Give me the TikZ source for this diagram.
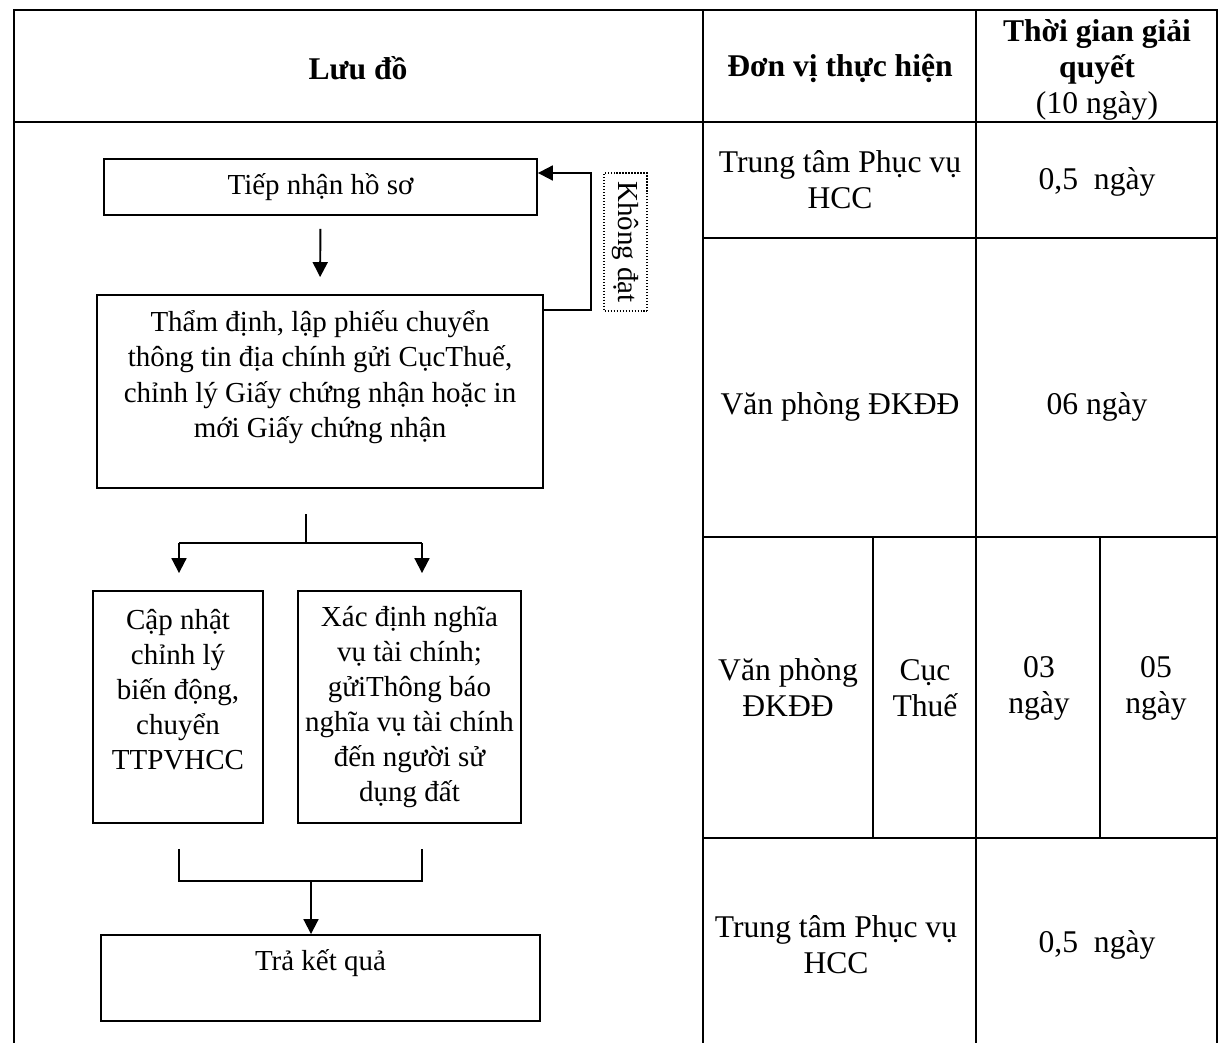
\documentclass[tikz,border=0pt]{standalone}
\usepackage{fontspec}
\setmainfont{Liberation Serif}
\usepackage{tikz}
\usetikzlibrary{arrows.meta,calc}
\newcommand{\TableFont}{\fontsize{18pt}{20.5pt}\selectfont}
\newcommand{\FlowFont}{\fontsize{16.5pt}{20pt}\selectfont}
\colorlet{LineColor}{black}
\tikzset{
  gridline/.style={draw=LineColor, line width=1pt},
  stepbox/.style={
    draw=LineColor, line width=1.1pt, align=center,
    inner sep=1pt, font=\FlowFont
  },
  flowline/.style={draw=LineColor, line width=1.1pt},
  flowarrow/.style={flowline, -{Triangle[length=8.5pt,width=8.5pt]}},
  notebox/.style={
    draw=LineColor, densely dotted, line width=0.7pt, rotate=-90,
    font=\FlowFont, inner sep=1pt
  },
  tablecell/.style={align=center, font=\TableFont},
  headcell/.style={align=center, font=\TableFont\bfseries}
}

\begin{document}
\begin{tikzpicture}[x=0.02cm, y=-0.02cm]
    \useasboundingbox (0,0) rectangle (1222,1043);
    \fill[white] (0,0) rectangle (1222,1043);
    % khung bang
    \draw[gridline] (14,1043) -- (14,10) -- (1217,10) -- (1217,1043);
    \draw[gridline] (14,122) -- (1217,122);
    \draw[gridline] (703,10) -- (703,1043);
    \draw[gridline] (976,10) -- (976,1043);
    \foreach \y in {238,537,838}
        \draw[gridline] (703,\y) -- (1217,\y);
    \draw[gridline] (873,537) -- (873,838);
    \draw[gridline] (1100,537) -- (1100,838);

    \node[headcell] (hdflow) at (358,68) {Lưu đồ};
    \node[headcell] (hdunit) at (840,68) {Đơn vị thực hiện};
    \node[headcell] (hdtime) at (1097,70) {Thời gian giải\\quyết\\{\mdseries(10 ngày)}};

    \node[tablecell] (unitA) at (840,180) {Trung tâm Phục vụ\\HCC};
    \node[tablecell] (timeA) at (1097,182) {0,5~~ngày};
    \node[tablecell] (unitB) at (840,407) {Văn phòng ĐKĐĐ};
    \node[tablecell] (timeB) at (1097,407) {06 ngày};
    \node[tablecell] (unitC) at (788,688) {Văn phòng\\ĐKĐĐ};
    \node[tablecell] (unitD) at (925,688) {Cục\\Thuế};
    \node[tablecell] (timeC) at (1039,688) {03\\ngày};
    \node[tablecell] (timeD) at (1156,688) {05\\ngày};
    \node[tablecell] (unitE) at (836,945) {Trung tâm Phục vụ\\HCC};
    \node[tablecell] (timeE) at (1097,945) {0,5~~ngày};

    % luu do
    \node[stepbox, minimum width=8.66cm, minimum height=1.12cm] (receive) at (320.5,187) {Tiếp nhận hồ sơ};
    \node[stepbox, minimum width=8.92cm, minimum height=3.86cm] (verify) at (320,391.5)
        {Thẩm định, lập phiếu chuyển\\thông tin địa chính gửi CụcThuế,\\chỉnh lý Giấy chứng nhận hoặc in\\mới Giấy chứng nhận\\\mbox{}};
    \node[stepbox, minimum width=3.4cm, minimum height=4.64cm] (update) at (178,707)
        {Cập nhật\\chỉnh lý\\biến động,\\chuyển\\TTPVHCC\\\mbox{}};
    \node[stepbox, minimum width=4.46cm, minimum height=4.64cm] (tax) at (409.5,707)
        {Xác định nghĩa\\vụ tài chính;\\gửiThông báo\\nghĩa vụ tài chính\\đến người sử\\dụng đất};
    \node[stepbox, minimum width=8.78cm, minimum height=1.72cm] (result) at (320.5,978) {Trả kết quả\\\mbox{}};
    \node[notebox, minimum width=2.76cm, minimum height=0.86cm] (fail) at (625.5,242) {Không đạt};

    \draw[flowarrow, shorten <=0.26cm, shorten >=0.34cm] (receive.south) -- (verify.north);

    \coordinate (backB) at (591,310);
    \coordinate (backT) at (591,173);
    \draw[flowarrow] (verify.east |- backB) -- (backB) -- (backT) -- (receive.east |- backT);

    \coordinate (splitT) at (306,514);
    \coordinate (splitM) at (306,543);
    \coordinate (splitL) at (179,543);
    \coordinate (splitR) at (422,543);
    \draw[flowline] (splitT) -- (splitM);
    \draw[flowline] (splitL) -- (splitR);
    \draw[flowarrow, shorten >=0.34cm] (splitL) -- (splitL |- update.north);
    \draw[flowarrow, shorten >=0.34cm] (splitR) -- (splitR |- tax.north);

    \coordinate (joinL) at (179,881);
    \coordinate (joinR) at (422,881);
    \coordinate (joinM) at (311,881);
    \draw[flowline, shorten <=0.5cm, shorten >=0.5cm] (joinL |- update.south) -- (joinL) -- (joinR) -- (joinR |- tax.south);
    \draw[flowarrow] (joinM) -- (joinM |- result.north);
\end{tikzpicture}
\end{document}
